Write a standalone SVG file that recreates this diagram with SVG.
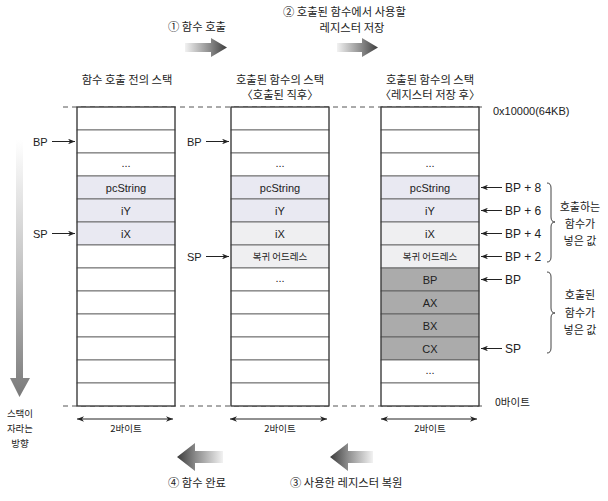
<svg xmlns="http://www.w3.org/2000/svg" width="608" height="501" viewBox="0 0 608 501">
<style>
.ko{font-family:"Noto Sans CJK KR","Noto Sans",sans-serif;fill:#222}
.la{font-family:"Liberation Sans",Arial,sans-serif;fill:#222}
.h{font-size:11.3px}
.c{font-size:11px;text-anchor:middle}
.ck{font-size:9.5px;text-anchor:middle}
.cell{fill:#fff;stroke:#555;stroke-width:0.8}
.lav{fill:#e9e9f2;stroke:#555;stroke-width:0.8}
.ret{fill:#efeff1;stroke:#555;stroke-width:0.8}
.dark{fill:#ababab;stroke:#555;stroke-width:0.8}
.frame{fill:none;stroke:#333;stroke-width:1}
.dash{stroke:#555;stroke-width:1;stroke-dasharray:5 4}
.ptr{stroke:#222;stroke-width:1;fill:none}
.brace{stroke:#444;stroke-width:1;fill:none}
</style>
<defs>
<marker id="ah" viewBox="0 0 10 8" refX="10" refY="4" markerWidth="7" markerHeight="5.6" orient="auto-start-reverse" markerUnits="userSpaceOnUse">
<path d="M0,0 L10,4 L0,8 L3,4 Z" fill="#222"/>
</marker>
<linearGradient id="gR" x1="0" y1="0" x2="1" y2="0">
<stop offset="0" stop-color="#f2f2f2"/><stop offset="0.6" stop-color="#8a8a8a"/><stop offset="1" stop-color="#3c3c3c"/>
</linearGradient>
<linearGradient id="gL" x1="1" y1="0" x2="0" y2="0">
<stop offset="0" stop-color="#f2f2f2"/><stop offset="0.6" stop-color="#8a8a8a"/><stop offset="1" stop-color="#3c3c3c"/>
</linearGradient>
<linearGradient id="gD" x1="0" y1="0" x2="0" y2="1">
<stop offset="0" stop-color="#ffffff"/><stop offset="0.5" stop-color="#c4c4c4"/><stop offset="1" stop-color="#7a7a7a"/>
</linearGradient>
</defs>
<rect width="608" height="501" fill="#fff"/>

<!-- dashed address lines -->
<g id="bounds">
<line class="dash" x1="63" y1="107" x2="486" y2="107"/>
<line class="dash" x1="63" y1="406" x2="486" y2="406"/>
<text class="la" font-size="11" x="493" y="115">0x10000(64KB)</text>
<text class="ko" font-size="10.5" x="495" y="406">0바이트</text>
</g>

<!-- headers -->
<g id="headers">
<text class="ko h" x="127" y="84" text-anchor="middle">함수 호출 전의 스택</text>
<text class="ko h" x="280" y="84" text-anchor="middle">호출된 함수의 스택</text>
<text class="ko h" x="280" y="99" text-anchor="middle">〈호출된 직후〉</text>
<text class="ko h" x="430" y="84" text-anchor="middle">호출된 함수의 스택</text>
<text class="ko h" x="430" y="99" text-anchor="middle">〈레지스터 저장 후〉</text>
</g>

<!-- stack 1 -->
<g id="stack1">
<rect class="cell" x="77" y="107" width="98" height="23"/>
<rect class="cell" x="77" y="130" width="98" height="23"/>
<rect class="cell" x="77" y="153" width="98" height="23"/>
<rect class="lav" x="77" y="176" width="98" height="23"/>
<rect class="lav" x="77" y="199" width="98" height="23"/>
<rect class="lav" x="77" y="222" width="98" height="23"/>
<rect class="cell" x="77" y="245" width="98" height="23"/>
<rect class="cell" x="77" y="268" width="98" height="23"/>
<rect class="cell" x="77" y="291" width="98" height="23"/>
<rect class="cell" x="77" y="314" width="98" height="23"/>
<rect class="cell" x="77" y="337" width="98" height="23"/>
<rect class="cell" x="77" y="360" width="98" height="23"/>
<rect class="cell" x="77" y="383" width="98" height="23"/>
<rect class="frame" x="77" y="107" width="98" height="299"/>
<text class="la c" x="126" y="167">...</text>
<text class="la c" x="126" y="191.5">pcString</text>
<text class="la c" x="126" y="214.5">iY</text>
<text class="la c" x="126" y="237.5">iX</text>
</g>

<!-- stack 2 -->
<g id="stack2">
<rect class="cell" x="231" y="107" width="98" height="23"/>
<rect class="cell" x="231" y="130" width="98" height="23"/>
<rect class="cell" x="231" y="153" width="98" height="23"/>
<rect class="lav" x="231" y="176" width="98" height="23"/>
<rect class="lav" x="231" y="199" width="98" height="23"/>
<rect class="ret" x="231" y="222" width="98" height="23"/>
<rect class="ret" x="231" y="245" width="98" height="23"/>
<rect class="cell" x="231" y="268" width="98" height="23"/>
<rect class="cell" x="231" y="291" width="98" height="23"/>
<rect class="cell" x="231" y="314" width="98" height="23"/>
<rect class="cell" x="231" y="337" width="98" height="23"/>
<rect class="cell" x="231" y="360" width="98" height="23"/>
<rect class="cell" x="231" y="383" width="98" height="23"/>
<rect class="frame" x="231" y="107" width="98" height="299"/>
<text class="la c" x="280" y="167">...</text>
<text class="la c" x="280" y="191.5">pcString</text>
<text class="la c" x="280" y="214.5">iY</text>
<text class="la c" x="280" y="237.5">iX</text>
<text class="ko ck" x="280" y="260">복귀 어드레스</text>
<text class="la c" x="280" y="282">...</text>
</g>

<!-- stack 3 -->
<g id="stack3">
<rect class="cell" x="381" y="107" width="98" height="23"/>
<rect class="cell" x="381" y="130" width="98" height="23"/>
<rect class="cell" x="381" y="153" width="98" height="23"/>
<rect class="lav" x="381" y="176" width="98" height="23"/>
<rect class="lav" x="381" y="199" width="98" height="23"/>
<rect class="ret" x="381" y="222" width="98" height="23"/>
<rect class="ret" x="381" y="245" width="98" height="23"/>
<rect class="dark" x="381" y="268" width="98" height="23"/>
<rect class="dark" x="381" y="291" width="98" height="23"/>
<rect class="dark" x="381" y="314" width="98" height="23"/>
<rect class="dark" x="381" y="337" width="98" height="23"/>
<rect class="cell" x="381" y="360" width="98" height="23"/>
<rect class="cell" x="381" y="383" width="98" height="23"/>
<rect class="frame" x="381" y="107" width="98" height="299"/>
<text class="la c" x="430" y="167">...</text>
<text class="la c" x="430" y="191.5">pcString</text>
<text class="la c" x="430" y="214.5">iY</text>
<text class="la c" x="430" y="237.5">iX</text>
<text class="ko ck" x="430" y="260">복귀 어드레스</text>
<text class="la c" x="430" y="283.5">BP</text>
<text class="la c" x="430" y="306.5">AX</text>
<text class="la c" x="430" y="329.5">BX</text>
<text class="la c" x="430" y="352.5">CX</text>
<text class="la c" x="430" y="374">...</text>
</g>

<!-- pointer labels -->
<g id="pointers" class="la" font-size="11">
<text x="33" y="145.5">BP</text>
<text x="33" y="237.5">SP</text>
<text x="187" y="145.5">BP</text>
<text x="187" y="260.5">SP</text>
<text x="505" y="191.5" font-size="12">BP + 8</text>
<text x="505" y="214.5" font-size="12">BP + 6</text>
<text x="505" y="237.5" font-size="12">BP + 4</text>
<text x="505" y="260.5" font-size="12">BP + 2</text>
<text x="505" y="283.5" font-size="12">BP</text>
<text x="505" y="352.5" font-size="12">SP</text>
</g>

<!-- braces and group labels -->
<g id="group-caller">
<path class="brace" d="M547,183 Q551,183 551,188 L551,217 Q551,222 555,222 Q551,222 551,227 L551,257 Q551,262 547,262"/>
<text class="ko" font-size="11" text-anchor="middle" x="580" y="211">호출하는</text>
<text class="ko" font-size="11" text-anchor="middle" x="580" y="228">함수가</text>
<text class="ko" font-size="11" text-anchor="middle" x="580" y="245">넣은 값</text>
</g>
<g id="group-callee">
<path class="brace" d="M547,272 Q551,272 551,277 L551,308 Q551,313 555,313 Q551,313 551,318 L551,348 Q551,353 547,353"/>
<text class="ko" font-size="11" text-anchor="middle" x="580" y="299">호출된</text>
<text class="ko" font-size="11" text-anchor="middle" x="580" y="317">함수가</text>
<text class="ko" font-size="11" text-anchor="middle" x="580" y="334">넣은 값</text>
</g>

<!-- width labels -->
<g id="widths">
<text class="ko ck" x="126" y="432">2바이트</text>
<text class="ko ck" x="280" y="432">2바이트</text>
<text class="ko ck" x="430" y="432">2바이트</text>
</g>

<!-- growth direction -->
<g id="growth">
<path d="M16,140 H23 V378 H30 L19.5,397 L10,378 H16 Z" fill="url(#gD)"/>
<text class="ko" font-size="9.5" text-anchor="middle" x="20" y="417">스택이</text>
<text class="ko" font-size="9.5" text-anchor="middle" x="20" y="432">자라는</text>
<text class="ko" font-size="9.5" text-anchor="middle" x="20" y="447">방향</text>
</g>

<!-- step arrows -->
<g id="step1">
<path d="M185,43 H211 V38 L227,47.5 L211,57 V52 H185 Z" fill="url(#gR)"/>
<text class="ko h" x="168" y="31">① 함수 호출</text>
</g>
<g id="step2">
<path d="M337,43 H362 V38 L378,47.5 L362,57 V52 H337 Z" fill="url(#gR)"/>
<text class="ko h" x="283" y="16">② 호출된 함수에서 사용할</text>
<text class="ko h" x="352" y="32" text-anchor="middle">레지스터 저장</text>
</g>
<g id="step3">
<path d="M373,451 H348 V443 L330,457 L348,471 V463 H373 Z" fill="url(#gL)"/>
<text class="ko h" x="290" y="487">③ 사용한 레지스터 복원</text>
</g>
<g id="step4">
<path d="M223,451 H195 V443 L177,457 L195,471 V463 H223 Z" fill="url(#gL)"/>
<text class="ko h" x="168" y="487">④ 함수 완료</text>
</g>

<!-- connectors -->
<g id="connectors">
<line class="ptr" x1="52" y1="141.5" x2="75" y2="141.5" marker-end="url(#ah)"/>
<line class="ptr" x1="52" y1="233.5" x2="75" y2="233.5" marker-end="url(#ah)"/>
<line class="ptr" x1="206" y1="141.5" x2="229" y2="141.5" marker-end="url(#ah)"/>
<line class="ptr" x1="206" y1="256.5" x2="229" y2="256.5" marker-end="url(#ah)"/>
<line class="ptr" x1="502" y1="187.5" x2="481" y2="187.5" marker-end="url(#ah)"/>
<line class="ptr" x1="502" y1="210.5" x2="481" y2="210.5" marker-end="url(#ah)"/>
<line class="ptr" x1="502" y1="233.5" x2="481" y2="233.5" marker-end="url(#ah)"/>
<line class="ptr" x1="502" y1="256.5" x2="481" y2="256.5" marker-end="url(#ah)"/>
<line class="ptr" x1="502" y1="279.5" x2="481" y2="279.5" marker-end="url(#ah)"/>
<line class="ptr" x1="502" y1="348.5" x2="481" y2="348.5" marker-end="url(#ah)"/>
<line class="ptr" x1="77" y1="419" x2="173" y2="419" marker-start="url(#ah)" marker-end="url(#ah)"/>
<line class="ptr" x1="230" y1="419" x2="327" y2="419" marker-start="url(#ah)" marker-end="url(#ah)"/>
<line class="ptr" x1="381" y1="419" x2="477" y2="419" marker-start="url(#ah)" marker-end="url(#ah)"/>
</g>
</svg>
